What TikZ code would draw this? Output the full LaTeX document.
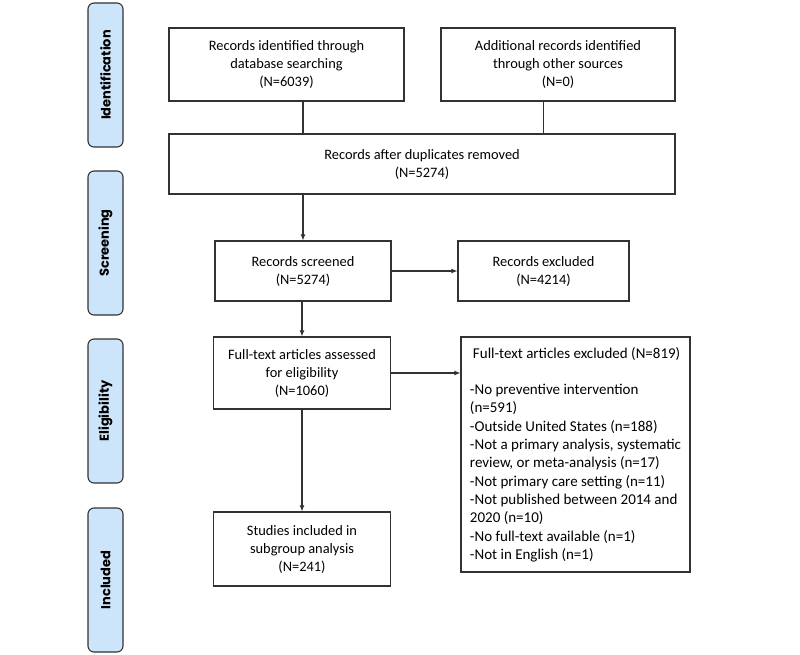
\documentclass[tikz,border=0pt]{standalone}
\usepackage{fontspec}
\setmainfont{Carlito}
\newfontfamily\phasefont{Poppins}
\usepackage{tikz}
\usetikzlibrary{shapes,positioning,fit,arrows.meta}
\definecolor{phaseblue}{RGB}{204,229,251}
\definecolor{edgegray}{RGB}{50,50,50}
\tikzset{
  recbox/.style={draw=edgegray, line width=1.1pt, align=center, inner sep=4pt,
    font=\fontsize{14.4}{18}\selectfont},
  phase/.style={draw=edgegray, fill=phaseblue, line width=1.1pt, rounded corners=6pt,
    rotate=90, minimum height=35pt, minimum width=144pt,
    font=\phasefont\bfseries\fontsize{13}{14}\selectfont},
  flow/.style={-{Latex[length=6pt,width=5pt]}, edgegray, line width=1.1pt},
  plainlink/.style={edgegray, line width=1.1pt}
}

\begin{document}
\begin{tikzpicture}[x=1pt,y=-1pt]
         \useasboundingbox (0,0) rectangle (800,655);
         % phase labels on the left
         \node [phase] (PI) at (105.5,75)  {Identification};
         \node [phase] (PS) at (105.5,243) {Screening};
         \node [phase] (PE) at (105.5,411) {Eligibility};
         \node [phase] (PN) at (105.5,580) {Included};
         % records
         \node [recbox, minimum width=235pt, minimum height=73pt] (DB)  at (286.5,64.5) {Records identified through\\database searching\\(N=6039)};
         \node [recbox, minimum width=234pt, minimum height=73pt] (OS)  at (558,64.5) {Additional records identified\\through other sources\\(N=0)};
         \node [recbox, minimum width=506pt, minimum height=60pt] (DUP) at (422,164) {Records after duplicates removed\\(N=5274)};
         \node [recbox, minimum width=176pt, minimum height=60pt] (SCR) at (303,271) {Records screened\\(N=5274)};
         \node [recbox, minimum width=171pt, minimum height=60pt] (EXC) at (543.5,271) {Records excluded\\(N=4214)};
         \node [recbox, minimum width=177pt, minimum height=72pt] (FT)  at (302,373) {Full-text articles assessed\\for eligibility\\(N=1060)};
         \node [recbox, minimum width=229pt, minimum height=235pt, align=left,
                font=\fontsize{15}{18.3}\selectfont] (FTX) at (575.5,454.5)
               {\hspace*{3pt}Full-text articles excluded (N=819)\\[18.3pt]
                -No preventive intervention\\(n=591)\\-Outside United States (n=188)\\
                -Not a primary analysis, systematic\\review, or meta-analysis (n=17)\\
                -Not primary care setting (n=11)\\-Not published between 2014 and\\2020 (n=10)\\
                -No full-text available (n=1)\\-Not in English (n=1)};
         \node [recbox, minimum width=177pt, minimum height=74pt] (INC) at (302,549) {Studies included in\\subgroup analysis\\(N=241)};
         % connectors
         \draw [plainlink] (DB.south -| SCR) -- (DUP.north -| SCR);
         \draw [plainlink] (OS.south -| EXC) -- (DUP.north -| EXC);
         \draw [flow] (DUP.south -| SCR) -- (SCR);
         \draw [flow] (SCR) -- (EXC);
         \draw [flow] (SCR.south -| FT) -- (FT);
         \draw [flow] (FT.east) -- (FT.east -| FTX.west);
         \draw [flow] (FT) -- (INC);
\end{tikzpicture}
\end{document}
